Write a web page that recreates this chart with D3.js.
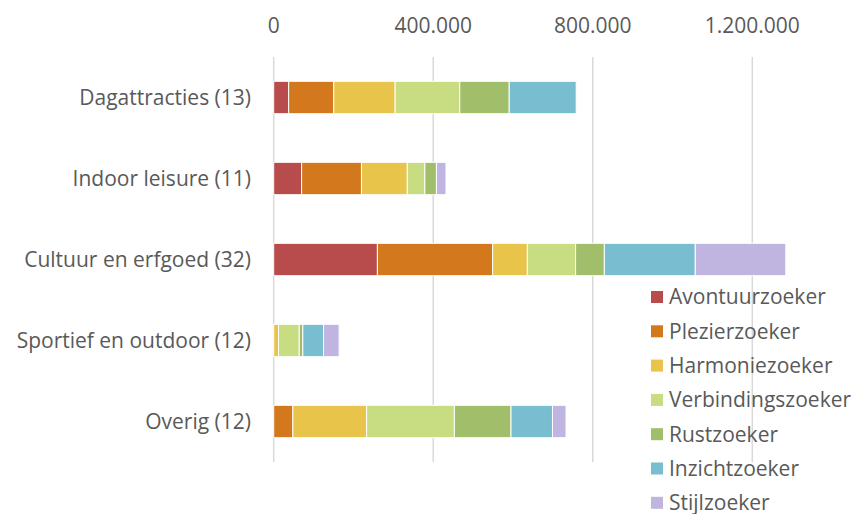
<!DOCTYPE html>
<html>
<head>
<meta charset="utf-8">
<script src="https://cdn.jsdelivr.net/npm/d3@7"></script>
<style>
  body { margin: 0; background: #fff; }
  text { font-family: "Open Sans", "Noto Sans", sans-serif; fill: #595959; }
</style>
</head>
<body>
<div id="chart"></div>
<script>
// Categories (top to bottom) and visitors per segment
const categories = ["Dagattracties (13)", "Indoor leisure (11)", "Cultuur en erfgoed (32)", "Sportief en outdoor (12)", "Overig (12)"];
const segments = ["Avontuurzoeker", "Plezierzoeker", "Harmoniezoeker", "Verbindingszoeker", "Rustzoeker", "Inzichtzoeker", "Stijlzoeker"];
const avontuurzoeker    = [37500, 70000, 260000, 0, 0];
const plezierzoeker     = [113000, 150000, 289000, 0, 48000];
const harmoniezoeker    = [154000, 115000, 87000, 12000, 185000];
const verbindingszoeker = [162000, 44000, 121000, 52000, 220000];
const rustzoeker        = [124000, 29000, 72000, 9000, 142000];
const inzichtzoeker     = [168000, 0, 228000, 52000, 104000];
const stijlzoeker       = [0, 24000, 227000, 39000, 34000];
const xTicks = [0, 400000, 800000, 1200000];

const colors = ["#b84c4d", "#d3781d", "#e8c44a", "#c8dc82", "#a1be6a", "#78bed0", "#c0b4e0"];

const width = 853, height = 514;
const margin = { top: 57, bottom: 52, left: 274, right: 101 };
const fontSize = "21px";

const svg = d3.select("#chart")
    .append("svg")
    .attr("width", width)
    .attr("height", height);

// Table rows for the stack
const series = [avontuurzoeker, plezierzoeker, harmoniezoeker, verbindingszoeker, rustzoeker, inzichtzoeker, stijlzoeker];
const rows = categories.map((c, i) => {
    const r = { cat: c };
    segments.forEach((s, j) => r[s] = series[j][i]);
    return r;
});
const stacked = d3.stack().keys(segments)(rows);

// 0 .. 1.200.000 spans the first four gridlines
const x = d3.scaleLinear()
    .domain([0, 1200000])
    .range([273.7, 752.3]);

const y = d3.scaleBand()
    .domain(categories)
    .range([margin.top, height - margin.bottom])
    .paddingInner(0.6)
    .paddingOuter(0.3);

const fmt = d => d3.format(",")(d).replace(/,/g, ".");

// Gridlines
svg.append("g")
    .selectAll("line")
    .data(xTicks)
    .enter()
    .append("line")
    .attr("x1", d => x(d))
    .attr("x2", d => x(d))
    .attr("y1", margin.top)
    .attr("y2", height - margin.bottom)
    .attr("stroke", "#d9d9d9")
    .attr("stroke-width", 1.5);

// Top tick labels
svg.append("g")
    .selectAll("text")
    .data(xTicks)
    .enter()
    .append("text")
    .attr("x", d => x(d))
    .attr("y", 33)
    .attr("text-anchor", "middle")
    .style("font-size", fontSize)
    .text(fmt);

// Category labels
svg.append("g")
    .selectAll("text")
    .data(categories)
    .enter()
    .append("text")
    .attr("x", 251)
    .attr("y", d => y(d) + y.bandwidth() / 2)
    .attr("dy", "0.35em")
    .attr("text-anchor", "end")
    .style("font-size", fontSize)
    .text(d => d);

// Stacked bars
svg.append("g")
    .selectAll("g")
    .data(stacked)
    .enter()
    .append("g")
    .attr("fill", (d, i) => colors[i])
    .selectAll("rect")
    .data(d => d.filter(p => p[1] > p[0]))
    .enter()
    .append("rect")
    .attr("x", d => x(d[0]))
    .attr("y", d => y(d.data.cat))
    .attr("width", d => x(d[1]) - x(d[0]))
    .attr("height", y.bandwidth())
    .attr("stroke", "#fff")
    .attr("stroke-width", 1);

// Legend
const legend = svg.append("g")
    .selectAll("g")
    .data(segments)
    .enter()
    .append("g")
    .attr("transform", (d, i) => `translate(651,${297 + i * 34.3})`);

legend.append("rect")
    .attr("x", 0)
    .attr("y", -6)
    .attr("width", 12)
    .attr("height", 12)
    .attr("fill", (d, i) => colors[i]);

legend.append("text")
    .attr("x", 18)
    .attr("y", 0)
    .attr("dy", "0.35em")
    .style("font-size", fontSize)
    .text(d => d);
</script>
</body>
</html>
